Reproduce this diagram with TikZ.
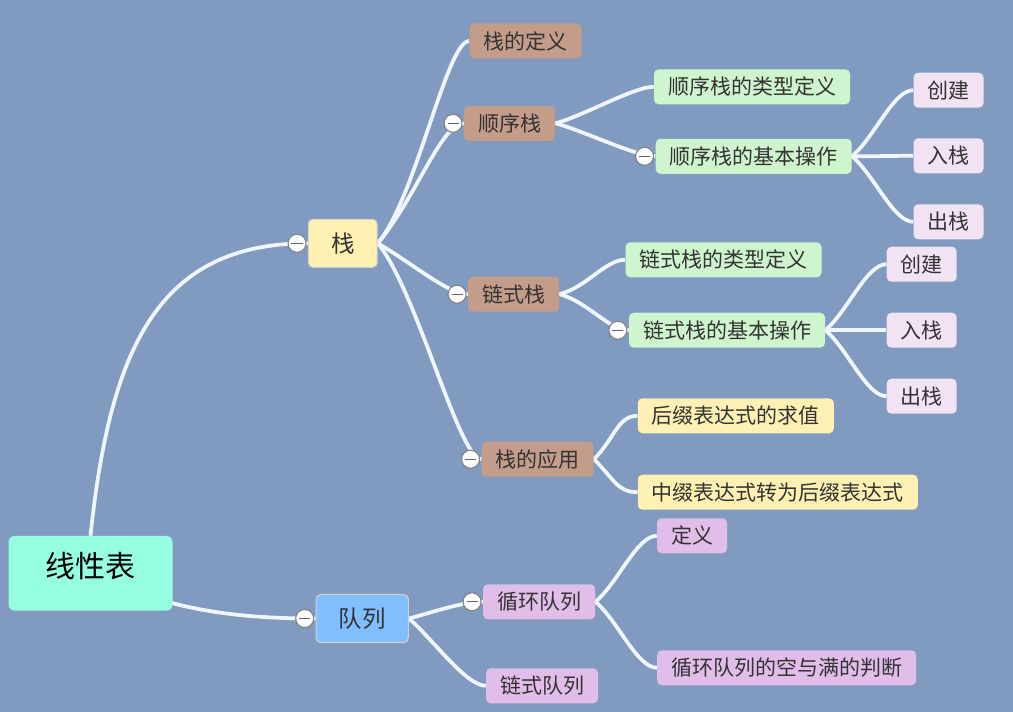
\documentclass[tikz,border=0pt]{standalone}
\usepackage{fontspec}
\setmainfont{Noto Sans CJK SC}
\usetikzlibrary{positioning}

\definecolor{bgblue}{RGB}{128,155,191}
\definecolor{linkwhite}{RGB}{240,246,255}
\definecolor{rootgreen}{RGB}{150,255,226}
\definecolor{stackyellow}{RGB}{255,241,178}
\definecolor{queueblue}{RGB}{128,190,255}
\definecolor{topicbrown}{RGB}{196,156,138}
\definecolor{opgreen}{RGB}{206,245,206}
\definecolor{leafpink}{RGB}{241,227,243}
\definecolor{appyellow}{RGB}{255,241,180}
\definecolor{queuepurple}{RGB}{225,190,233}

\pgfdeclarelayer{lines}
\pgfsetlayers{lines,main}

\begin{document}
\begin{tikzpicture}[x=0.75pt, y=-0.75pt]
  \tikzstyle{rootbox}=[rectangle, rounded corners=4.5pt, fill=rootgreen, minimum width=123pt, minimum height=56pt,
                       text height=20pt, text depth=13pt, font=\fontsize{22.5pt}{26pt}\selectfont, text=black]
  \tikzstyle{branch}=[rectangle, rounded corners=3.5pt, draw=black!18, line width=0.8pt, minimum height=36pt,
                      inner xsep=17pt, font=\fontsize{17.6pt}{20pt}\selectfont, text=black!80]
  \tikzstyle{topic}=[rectangle, rounded corners=3.5pt, minimum height=26.25pt, inner xsep=10.5pt,
                     font=\fontsize{15.75pt}{18pt}\selectfont, text=black!80]
  \tikzstyle{toggle}=[circle, draw=black!50, fill=white, line width=0.8pt, minimum size=13.5pt, inner sep=0pt,
                      path picture={\draw[black!60, line width=0.9pt]
                        ([xshift=2.6pt]path picture bounding box.west) -- ([xshift=-2.6pt]path picture bounding box.east);}]
  \tikzstyle{link}=[draw=linkwhite, line width=2.8pt, in=180, out distance=22pt, in distance=15pt]

  \useasboundingbox (0,0) rectangle (1013,712);

  % root and main branches
  \node[rootbox] (root) at (90.5,573.3) {线性表};
  \node[branch, fill=stackyellow] (stack) at (342.8,243.3) {栈};
  \node[branch, fill=queueblue] (queue) at (362.2,618.5) {队列};

  % stack branch
  \node[topic, fill=topicbrown] (def) at (525.5,41) {栈的定义};
  \node[topic, fill=topicbrown] (seq) at (509.7,123.3) {顺序栈};
  \node[topic, fill=topicbrown] (chain) at (513.7,294.2) {链式栈};
  \node[topic, fill=topicbrown] (app) at (537.7,459.2) {栈的应用};

  \node[topic, fill=opgreen] (seqtype) at (752,86.8) {顺序栈的类型定义};
  \node[topic, fill=opgreen] (seqop) at (753.7,156.3) {顺序栈的基本操作};
  \node[topic, fill=leafpink] (seqnew) at (948.5,90.2) {创建};
  \node[topic, fill=leafpink] (seqpush) at (948.5,155.8) {入栈};
  \node[topic, fill=leafpink] (seqpop) at (948.5,221.8) {出栈};

  \node[topic, fill=opgreen] (chaintype) at (723.5,259.8) {链式栈的类型定义};
  \node[topic, fill=opgreen] (chainop) at (727,330.2) {链式栈的基本操作};
  \node[topic, fill=leafpink] (chainnew) at (921.7,264.2) {创建};
  \node[topic, fill=leafpink] (chainpush) at (921.7,330.2) {入栈};
  \node[topic, fill=leafpink] (chainpop) at (921.7,396.2) {出栈};

  \node[topic, fill=appyellow] (postfix) at (735.8,415.8) {后缀表达式的求值};
  \node[topic, fill=appyellow] (infix) at (777.8,492.2) {中缀表达式转为后缀表达式};

  % queue branch
  \node[topic, fill=queuepurple] (circ) at (539.2,601.8) {循环队列};
  \node[topic, fill=queuepurple] (linkq) at (542,685.8) {链式队列};
  \node[topic, fill=queuepurple] (circdef) at (692,535.8) {定义};
  \node[topic, fill=queuepurple] (circjudge) at (786.7,667.8) {循环队列的空与满的判断};

  % collapse buttons
  \foreach \n in {stack, queue, seq, chain, app, seqop, chainop, circ}
    \node[toggle, left=1pt of \n] (t\n) {};

  % connectors, behind the boxes
  \begin{pgfonlayer}{lines}
    \fill[bgblue] (0,0) rectangle (1013,712);
    \draw[link] (root.north) to[out=84, out distance=142pt, in distance=112pt] (stack.west);
    \draw[link] (root.center) to[out=-25, out distance=60pt, in distance=68pt] (queue.west);
    \foreach \c/\a in {def/50, seq/50, app/-50}
      \draw[link, out distance=45pt, in distance=17pt] (stack.east) to[out=\a] (\c.west);
    \draw[link, out distance=30pt] (stack.east) to[out=-30] (chain.west);
    \foreach \p/\c/\a in {seq/seqtype/15, seq/seqop/-15, chain/chaintype/15, chain/chainop/-15,
                          seqop/seqnew/40, seqop/seqpush/0, seqop/seqpop/-40,
                          chainop/chainnew/40, chainop/chainpush/0, chainop/chainpop/-40,
                          app/postfix/45, app/infix/-45, queue/circ/15, queue/linkq/-40,
                          circ/circdef/40, circ/circjudge/-40}
      \draw[link] (\p.east) to[out=\a] (\c.west);
  \end{pgfonlayer}
\end{tikzpicture}
\end{document}
